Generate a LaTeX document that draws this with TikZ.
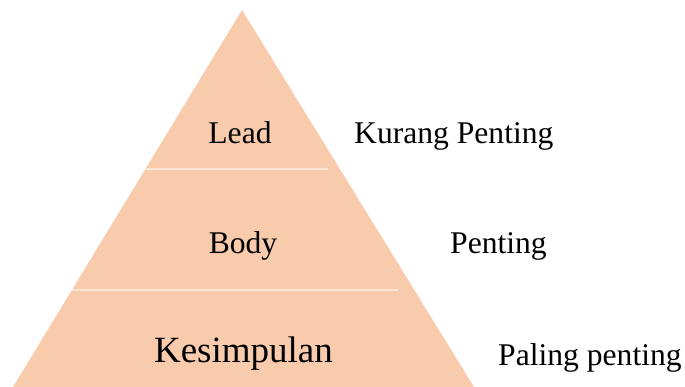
\documentclass[tikz,border=0pt]{standalone}
\usepackage{fontspec}
\setmainfont{Liberation Serif}
\definecolor{peach}{HTML}{F8CBAD}
\definecolor{divline}{HTML}{FCE6D6}
\tikzset{layertext/.style={
  anchor=base,
  inner sep=0pt,
  font=\fontsize{31.6}{36}\selectfont,
  },
  sidetext/.style={
  anchor=base west,
  inner sep=0pt,
  font=\fontsize{31.6}{36}\selectfont,
  }
  }

\begin{document}
\begin{tikzpicture}[x=1pt,y=-1pt]
      \useasboundingbox (0,0) rectangle (685,387);
      \clip (0,0) rectangle (685,387);
      \fill[peach] (242,10) -- (13,387) -- (474,387) -- cycle;

      \coordinate (l1a) at (145,169.5);
      \coordinate (l1b) at (328,169.5);
      \coordinate (l2a) at (72,289.5);
      \coordinate (l2b) at (398,289.5);
      \draw[divline, line width=2pt] (l1a) -- (l1b);
      \draw[divline, line width=2pt] (l2a) -- (l2b);

      \node[layertext] (lead) at (240,144) {Lead};
      \node[layertext] (body) at (243,254) {Body};
      \node[layertext, font=\fontsize{37}{42}\selectfont] (kesimpulan) at (243.5,362) {Kesimpulan};

      \node[sidetext] (kurang) at (354,144) {Kurang Penting};
      \node[sidetext] (penting) at (450,254) {Penting};
      \node[sidetext] (paling) at (498,365) {Paling penting};
    \end{tikzpicture}
\end{document}
